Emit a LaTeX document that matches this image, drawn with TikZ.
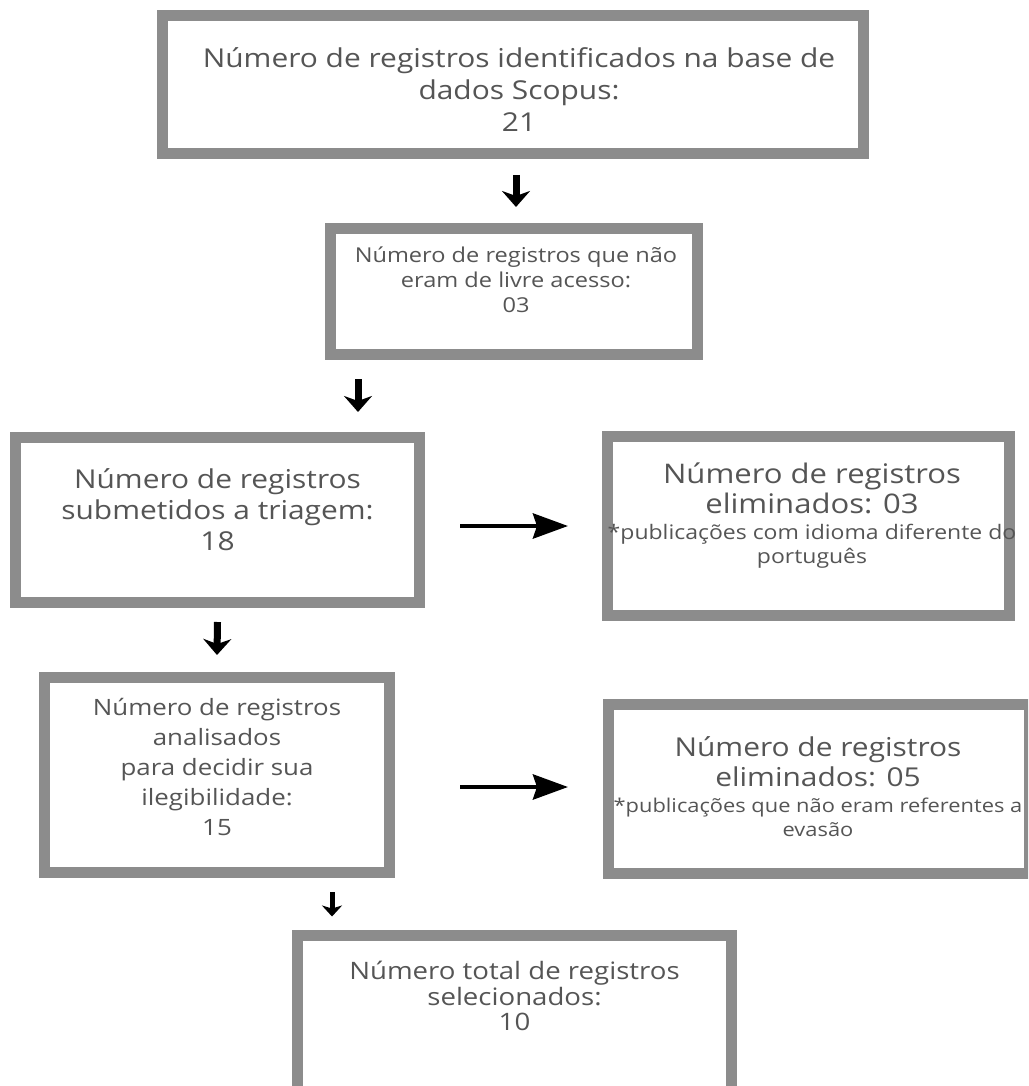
\documentclass[tikz,border=0pt]{standalone}
\usepackage{fontspec}
\setmainfont{Open Sans}[FakeStretch=1.15]
\usetikzlibrary{arrows.meta}
\definecolor{boxgray}{HTML}{8C8C8C}
\definecolor{txtgray}{HTML}{555555}

\tikzset{
	stagebox/.style={shape=rectangle, draw=boxgray, line width=11pt, fill=white, inner sep=0pt},
	stagetxt/.style={align=center, inner sep=0pt, text=txtgray},
	downarr/.style={-{Stealth[length=16pt,width=28pt,inset=5pt]}, line width=7pt, black},
	smalldown/.style={-{Stealth[length=11pt,width=20pt,inset=3pt]}, line width=5pt, black},
	rightarr/.style={-{Stealth[length=35pt,width=25pt,inset=4pt]}, line width=4.5pt, black}
}
\newcommand{\notetxt}[1]{{\fontsize{20}{24}\selectfont #1}}

\begin{document}
\begin{tikzpicture}[x=1pt, y=-1pt]
	\useasboundingbox (0,0) rectangle (1028,1086);
	\clip (0,0) rectangle (1028,1086);
	
	% caixas
	\node[stagebox, minimum width=701pt, minimum height=138pt] (b1) at (513, 84.5) {};
	\node[stagebox, minimum width=367pt, minimum height=126pt] (b2) at (514, 291.5) {};
	\node[stagebox, minimum width=404pt, minimum height=165pt] (b3) at (217.5, 520) {};
	\node[stagebox, minimum width=402pt, minimum height=179pt] (b4) at (808.5, 526) {};
	\node[stagebox, minimum width=345pt, minimum height=195pt] (b5) at (217, 775) {};
	\node[stagebox, minimum width=421pt, minimum height=169pt] (b6) at (819, 789) {};
	\node[stagebox, minimum width=434pt, minimum height=200pt] (b7) at (514.5, 1035) {};
	
	% textos
	\node[stagetxt, font=\fontsize{26}{32}\selectfont] (t1) at (519, 90)
		{Número de registros identificados na base de\\dados Scopus:\\21};
	\node[stagetxt, font=\fontsize{20.5}{25}\selectfont] (t2) at (516, 280)
		{Número de registros que não\\eram de livre acesso:\\03};
	\node[stagetxt, font=\fontsize{26}{31}\selectfont] (t3) at (217.5, 510)
		{Número de registros\\submetidos a triagem:\\18};
	\node[stagetxt, font=\fontsize{27}{30}\selectfont] (t4) at (812, 516)
		{Número de registros\\eliminados: 03\\[-4pt]\notetxt{*publicações com idioma diferente do}\\[-6pt]\notetxt{português}};
	\node[stagetxt, font=\fontsize{22.5}{30}\selectfont] (t5) at (217, 767)
		{Número de registros\\analisados\\para decidir sua\\ilegibilidade:\\15};
	\node[stagetxt, font=\fontsize{26}{30}\selectfont] (t6) at (818, 787)
		{Número de registros\\eliminados: 05\\[-4pt]{\fontsize{19}{24}\selectfont *publicações que não eram referentes a}\\[-6pt]{\fontsize{19}{24}\selectfont evasão}};
	\node[stagetxt, font=\fontsize{24}{25.5}\selectfont] (t7) at (514.5, 996)
		{Número total de registros\\selecionados:\\10};
	
	% setas
	\draw[downarr] ([xshift=3pt,yshift=-16pt]b1.south) -- ([xshift=2pt,yshift=16pt]b2.north);
	\draw[downarr] ([xshift=33pt,yshift=-19pt]b2.south west) -- ([xshift=348pt,yshift=20pt]b3.north west);
	\draw[downarr] ([yshift=-14pt]b3.south) -- ([yshift=17pt]b5.north);
	\draw[smalldown] ([xshift=293pt,yshift=-14pt]b5.south west) -- ([xshift=40pt,yshift=13pt]b7.north west);
	\draw[rightarr] ([xshift=35pt,yshift=-6pt]b3.east) -- ([xshift=-34pt]b4.west);
	\draw[rightarr] ([xshift=65pt,yshift=-12pt]b5.east) -- ([xshift=-35pt,yshift=2pt]b6.west);
	
\end{tikzpicture}
\end{document}
